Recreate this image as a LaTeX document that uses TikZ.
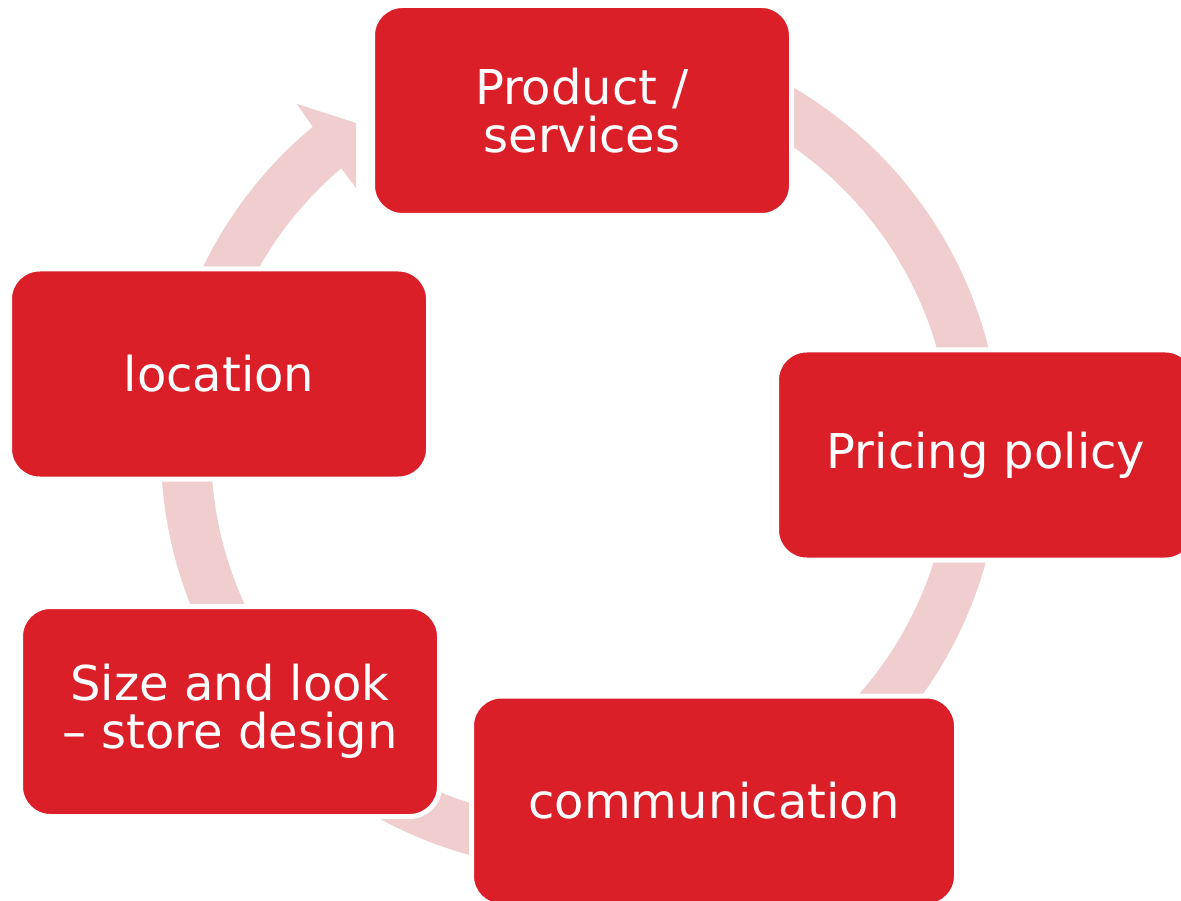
\documentclass[tikz,border=0pt]{standalone}
\usepackage{fontspec}
\setmainfont{DejaVu Sans}
\usepackage{tikz}
\definecolor{rr}{RGB}{218, 31, 41}
\definecolor{pp}{RGB}{240, 205, 206}

\begin{document}
\begin{tikzpicture}[box/.style={rectangle, rounded corners=30pt, fill=rr, draw=white, line width=5pt, inner sep=0pt, minimum width=419pt, minimum height=210pt, align=center, text=white, font=\fontsize{48}{48}\selectfont}]
\useasboundingbox (0pt, 0pt) rectangle (1181pt, -901pt);
\coordinate (c) at (581pt, -450pt);
% ring with arrow head
\fill [pp] ([shift={(c)}]80:420pt) arc [start angle=80, end angle=-230.3, radius=420pt] -- (297pt, -104pt) -- (356pt, -123pt) -- (356pt, -188pt) -- ([shift={(c)}]-229.6:370pt) arc [start angle=-229.6, end angle=80, radius=370pt] -- cycle;
\node (1) [box] at (582pt, -110.5pt) {Product /\\services};
\node (2) [box] at (986pt, -455pt) {Pricing policy};
\node (3) [box, minimum width=485pt] at (714pt, -801pt) {communication};
\node (4) [box] at (230pt, -711.5pt) {Size and look\\– store design};
\node (5) [box] at (219pt, -374pt) {location};
\end{tikzpicture}
\end{document}
